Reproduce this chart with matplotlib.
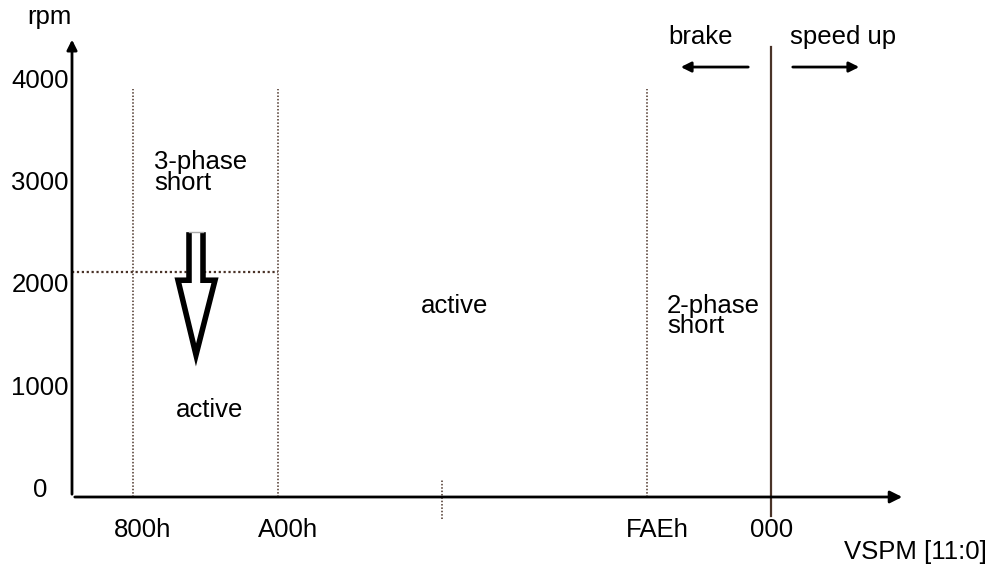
#!/usr/bin/env python3

import matplotlib.pyplot as plt
from matplotlib.patches import Polygon

plt.rcParams["font.family"] = ["Liberation Sans", "DejaVu Sans"]

# y axis in rpm
RPM_TICKS = [0, 1000, 2000, 3000, 4000]
RPM_LABELS = ["0", "1000", "2000", "3000", "4000"]

# x positions of the VSPM boundaries (picture units)
X_AXIS_START = 72
X_AXIS_END = 905
BOUNDARY_X = [133, 278, 647]
BOUNDARY_LABELS = ["800h", "A00h", "FAEh"]
ZERO_X = 771
ZERO_LABEL = "000"
MID_TICK_X = 442

BOUNDARY_TOP = 3990     # rpm where the dotted lines stop
THRESHOLD_RPM = 2200    # dotted horizontal line
ZERO_LINE_TOP = 4400
Y_AXIS_TOP = 4500

DOT_COLOR = "#4a3328"
FS = 18.5

fig = plt.figure(figsize=(9.92, 5.66), dpi=100)
ax = fig.add_axes([0, 0, 1, 1])
ax.set_xlim(0, 992)
# 0 rpm at pixel row 497, 1000 rpm = 102.25 px
ax.set_ylim(-(566 - 497) / 0.10225, 497 / 0.10225)
ax.axis("off")

# axes with arrow heads
ax.annotate("", xy=(X_AXIS_END, 0), xytext=(X_AXIS_START, 0),
            arrowprops=dict(arrowstyle="-|>", color="black", lw=2, mutation_scale=18))
ax.annotate("", xy=(X_AXIS_START, Y_AXIS_TOP), xytext=(X_AXIS_START, 0),
            arrowprops=dict(arrowstyle="-|>", color="black", lw=2, mutation_scale=15))

ax.text(49, 4690, "rpm", fontsize=FS, ha="center", va="center")
for v, lab in zip(RPM_TICKS, RPM_LABELS):
    ax.text(40, v + 70, lab, fontsize=FS, ha="center", va="center")

# region boundaries
for x, lab in zip(BOUNDARY_X, BOUNDARY_LABELS):
    ax.plot([x, x], [0, BOUNDARY_TOP], linestyle=(0, (1, 1.2)), color=DOT_COLOR, lw=1.1)
    ax.text(x + 10, -323, lab, fontsize=FS, ha="center", va="center")
ax.plot([MID_TICK_X, MID_TICK_X], [-220, 180], linestyle=(0, (1, 1.2)),
        color=DOT_COLOR, lw=1.1)

ax.plot([ZERO_X, ZERO_X], [-190, ZERO_LINE_TOP], color=DOT_COLOR, lw=1.6)
ax.text(ZERO_X + 1, -323, ZERO_LABEL, fontsize=FS, ha="center", va="center")
ax.text(987, -538, "VSPM [11:0]", fontsize=FS, ha="right", va="center")

# speed threshold
ax.plot([X_AXIS_START, BOUNDARY_X[1]], [THRESHOLD_RPM, THRESHOLD_RPM],
        linestyle=(0, (1, 1.2)), color=DOT_COLOR, lw=1.6)

# region labels
ax.text(154, 3174, "3-phase\nshort", fontsize=FS, ha="left", va="center", linespacing=0.8)
ax.text(210, 850, "active", fontsize=FS, ha="center", va="center")
ax.text(455, 1870, "active", fontsize=FS, ha="center", va="center")
ax.text(667, 1770, "2-phase\nshort", fontsize=FS, ha="left", va="center", linespacing=0.8)

# brake / speed up
ax.text(701, 4500, "brake", fontsize=FS, ha="center", va="center")
ax.text(843, 4500, "speed up", fontsize=FS, ha="center", va="center")
ax.annotate("", xy=(678, 4205), xytext=(751, 4205),
            arrowprops=dict(arrowstyle="-|>", color="black", lw=2, mutation_scale=15))
ax.annotate("", xy=(862, 4205), xytext=(790, 4205),
            arrowprops=dict(arrowstyle="-|>", color="black", lw=2, mutation_scale=15))

# hollow down arrow (speed dropping below threshold)
arrow_pts = [(189, 2590), (189, 2120), (178, 2120), (196, 1390),
             (215, 2120), (203, 2120), (203, 2590)]
ax.add_patch(Polygon(arrow_pts, closed=False, facecolor="white",
                     edgecolor="black", lw=4, joinstyle="miter", zorder=3))
ax.plot([189, 203], [2590, 2590], color="#aaaaaa", lw=1, zorder=4)

fig.savefig("out.png", dpi=100)
print("saved out.png")
